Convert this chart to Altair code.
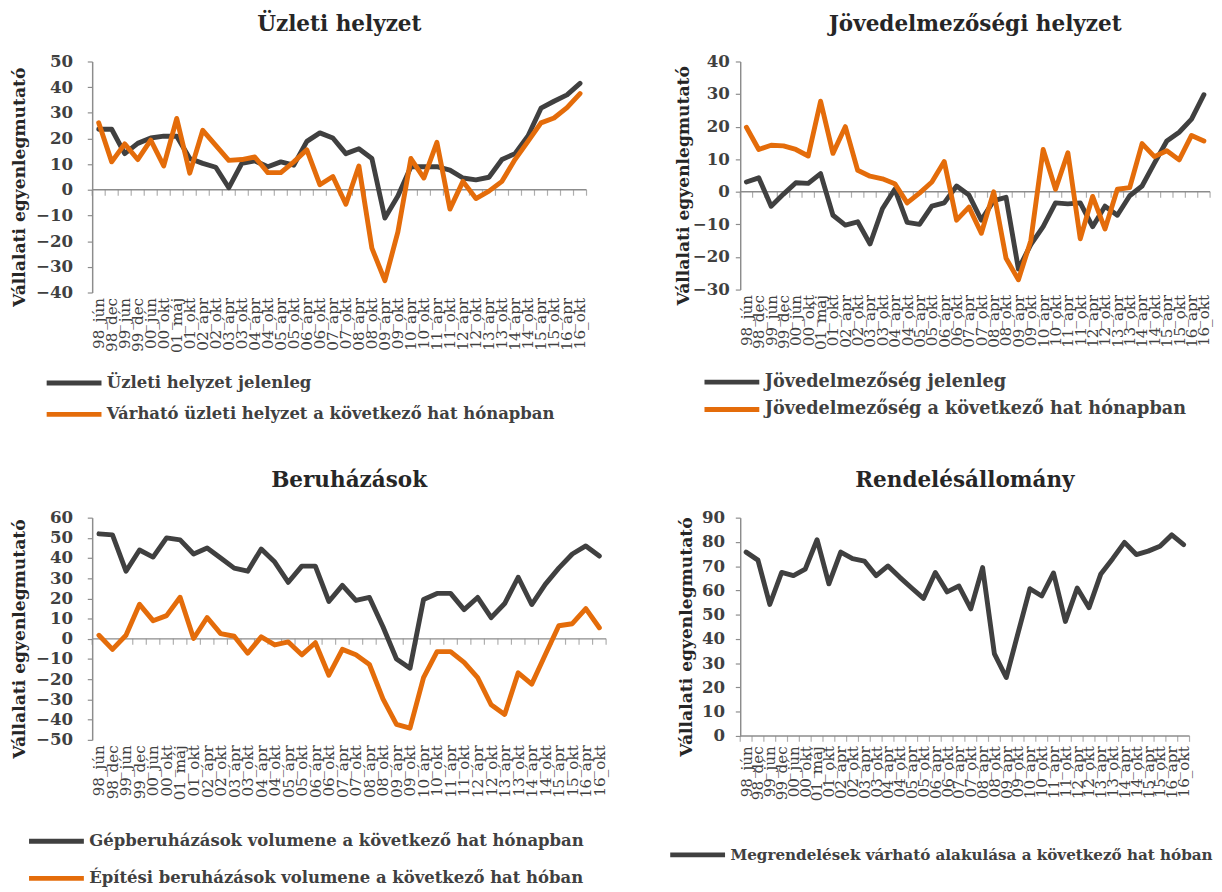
import altair as alt
import pandas as pd

labels = ["98_jún", "98_dec", "99_jún", "99_dec", "00_jún", "00_okt", "01_máj", "01_okt",
          "02_ápr", "02_okt", "03_ápr", "03_okt", "04_ápr", "04_okt", "05_ápr", "05_okt",
          "06_ápr", "06_okt", "07_ápr", "07_okt", "08_ápr", "08_okt", "09_ápr", "09_okt",
          "10_ápr", "10_okt", "11_ápr", "11_okt", "12_ápr", "12_okt", "13_ápr", "13_okt",
          "14_ápr", "14_okt", "15_ápr", "15_okt", "16_ápr", "16_okt"]

uzleti_jelenleg = [23.6, 23.6, 14.1, 18.1, 20.2, 20.9, 20.9, 12.2, 10.3, 8.8, 0.8, 10.3, 11.3,
                   9.0, 10.9, 9.6, 18.9, 22.2, 20.2, 14.1, 16.0, 12.2, -11.0, -2.4, 9.0, 9.0,
                   9.0, 7.7, 4.6, 3.9, 4.9, 11.8, 14.1, 21.0, 31.8, 34.5, 37.0, 41.5]
uzleti_varhato = [26.1, 10.9, 17.9, 11.8, 19.4, 9.3, 27.8, 6.5, 23.2, 17.3, 11.5, 11.8, 12.8,
                  6.7, 6.7, 10.9, 15.6, 2.0, 5.2, -5.6, 9.3, -22.7, -35.4, -16.4, 12.2, 4.6,
                  18.5, -7.5, 3.3, -3.4, -0.5, 3.3, 11.8, 18.9, 26.1, 28.0, 32.0, 37.5]

jov_jelenleg = [3.0, 4.3, -4.4, -0.7, 2.8, 2.6, 5.6, -7.2, -10.2, -9.2, -16.0, -5.2, 0.8,
                -9.4, -10.0, -4.4, -3.4, 1.8, -1.0, -8.7, -2.7, -1.7, -23.7, -16.2, -10.7,
                -3.4, -3.7, -3.4, -10.7, -4.4, -7.2, -1.2, 1.8, 8.8, 15.6, 18.3, 22.3, 29.8]
jov_varhato = [19.8, 13.0, 14.3, 14.1, 13.0, 11.0, 27.8, 11.8, 20.0, 6.6, 4.8, 4.0, 2.5,
               -3.4, -0.4, 3.0, 9.3, -8.7, -4.7, -12.7, 0.0, -20.4, -27.0, -15.0, 13.0, 0.8,
               12.0, -14.4, -1.4, -11.4, 0.8, 1.3, 14.8, 10.8, 12.6, 9.8, 17.3, 15.6]

beruh_gep = [52.0, 51.5, 33.5, 44.0, 40.5, 50.0, 49.0, 42.0, 45.0, 40.0, 35.0, 33.5, 44.5,
             38.0, 28.0, 36.0, 36.0, 18.5, 26.5, 19.0, 20.5, 6.0, -10.0, -14.5, 19.5, 22.5,
             22.5, 14.5, 20.5, 10.5, 17.5, 30.5, 17.0, 27.0, 35.0, 42.0, 46.0, 41.0]
beruh_epit = [1.8, -5.2, 1.8, 17.1, 9.0, 11.5, 20.6, 0.2, 10.6, 2.6, 1.3, -7.1, 1.0, -3.0,
              -1.5, -7.9, -1.9, -18.0, -5.2, -7.9, -12.7, -29.7, -42.3, -44.2, -19.2, -6.3,
              -6.3, -11.6, -19.2, -32.6, -37.4, -16.8, -22.4, -7.9, 6.5, 7.5, 15.0, 5.5]

rendeles = [75.8, 72.5, 54.2, 67.4, 66.1, 68.8, 80.9, 62.7, 75.8, 73.1, 72.1, 66.1, 70.1,
            65.4, 61.0, 56.7, 67.4, 59.4, 61.8, 52.4, 69.4, 33.8, 24.1, 42.5, 60.7, 57.7,
            67.2, 47.2, 61.0, 52.9, 66.8, 73.1, 79.8, 74.8, 76.2, 78.2, 82.9, 78.9]

FONT = "DejaVu Serif"
DARK = "#404040"
ORANGE = "#E46C0A"
GREY = "#8C8C8C"
TXT = "#262626"

N = len(labels)
LABEL_EXPR = "[" + ",".join("'" + s + "'" for s in labels) + "][datum.value]"

# legend line symbol: a horizontal stroke starting at the entry's left edge
SYM_PATH = "M-1,0H7"
SYM_SIZE = 196  # sqrt = 14 -> unit scale 7 -> line 56px long
SYM_LABEL_OFFSET = 45


def panel(title, names, series, colors, ymin, ymax, width, height,
          leg_x, leg_y, leg_fs, leg_pad, lab_pad, title_pad):
    rows = []
    for name, vals in zip(names, series):
        for i, v in enumerate(vals):
            rows.append({"idx": i, "val": v, "series": name})
    df = pd.DataFrame(rows)
    xs = alt.Scale(domain=[-0.5, N - 0.5], nice=False, zero=False)
    ys = alt.Scale(domain=[ymin, ymax], nice=False, zero=False)

    xaxis = alt.Axis(values=list(range(N)), labelExpr=LABEL_EXPR, labelAngle=-90,
                     labelOverlap=False, labelFlush=False, labelBound=False,
                     domain=False, ticks=False, grid=False, title=None,
                     labelFont=FONT, labelFontSize=15.5, labelColor=DARK,
                     labelPadding=5 if ymin < 0 else 10)
    yaxis = alt.Axis(values=list(range(ymin, ymax + 1, 10)), grid=False,
                     title="Vállalati egyenlegmutató", titleFont=FONT, titleFontSize=17.5,
                     titleFontWeight="bold", titleColor=TXT, titlePadding=title_pad,
                     titleY=height / 2 + 10,
                     labelFont=FONT, labelFontSize=17, labelFontWeight="bold",
                     labelColor=DARK, labelPadding=lab_pad, domainColor=GREY, domainWidth=1.5,
                     tickColor=GREY, tickSize=5, tickWidth=1.2)
    legend = alt.Legend(title=None, orient="none", legendX=leg_x, legendY=leg_y,
                        direction="vertical", symbolType=SYM_PATH, symbolStrokeWidth=5,
                        symbolSize=SYM_SIZE, labelFont=FONT, labelFontSize=leg_fs,
                        labelFontWeight="bold", labelColor=DARK, labelLimit=1000,
                        rowPadding=leg_pad, labelOffset=SYM_LABEL_OFFSET)

    lines = alt.Chart(df).mark_line(strokeWidth=5, strokeCap="round", strokeJoin="round").encode(
        x=alt.X("idx:Q", scale=xs, axis=xaxis),
        y=alt.Y("val:Q", scale=ys, axis=yaxis),
        color=alt.Color("series:N", scale=alt.Scale(domain=names, range=colors),
                        sort=names, legend=legend),
    )
    zero_df = pd.DataFrame({"x0": [-0.5], "x1": [N - 0.5], "y0": [0]})
    zero = alt.Chart(zero_df).mark_rule(color=GREY, strokeWidth=1.5).encode(
        x=alt.X("x0:Q", scale=xs, axis=xaxis), x2="x1:Q",
        y=alt.Y("y0:Q", scale=ys, axis=yaxis))
    tick_df = pd.DataFrame({"t": [i - 0.5 for i in range(N + 1)], "y0": [0] * (N + 1)})
    ticks = alt.Chart(tick_df).mark_tick(orient="vertical", size=6, thickness=1.2,
                                          color=GREY, yOffset=3).encode(
        x=alt.X("t:Q", scale=xs, axis=xaxis), y=alt.Y("y0:Q", scale=ys, axis=yaxis))

    return alt.layer(zero, ticks, lines).properties(
        width=width, height=height,
        title=alt.Title(title, font=FONT, fontSize=22, fontWeight="bold", color=TXT,
                        offset=17, anchor="middle"))


tl = panel("Üzleti helyzet",
           ["Üzleti helyzet jelenleg", "Várható üzleti helyzet a következő hat hónapban"],
           [uzleti_jelenleg, uzleti_varhato], [DARK, ORANGE], -40, 50, 505, 236,
           -49, 319, 16.8, 11, 15, 7)
tr = panel("Jövedelmezőségi helyzet",
           ["Jövedelmezőség jelenleg", "Jövedelmezőség a következő hat hónapban"],
           [jov_jelenleg, jov_varhato], [DARK, ORANGE], -30, 40, 480, 233,
           -39, 318, 18, 7, 6, 0)
bl = panel("Beruházások",
           ["Gépberuházások volumene a következő hat hónapban",
            "Építési beruházások volumene a következő hat hóban"],
           [beruh_gep, beruh_epit], [DARK, ORANGE], -50, 60, 525, 227,
           -67, 321, 16.8, 17, 15, 7)
br = panel("Rendelésállomány",
           ["Megrendelések várható alakulása a következő hat hóban"],
           [rendeles], [DARK], 0, 90, 459, 223,
           -74, 335, 15.5, 0, 11, 6)

chart = alt.concat(tl, tr, bl, br, columns=2,
                   spacing={"row": 230, "column": 137},
                   bounds="flush", align="none").resolve_scale(
    color="independent").properties(
    padding={"left": 3, "top": -4, "right": 0, "bottom": 5}).configure_view(stroke=None)

chart.save("out.html", embed_options={"renderer": "svg", "actions": False})
